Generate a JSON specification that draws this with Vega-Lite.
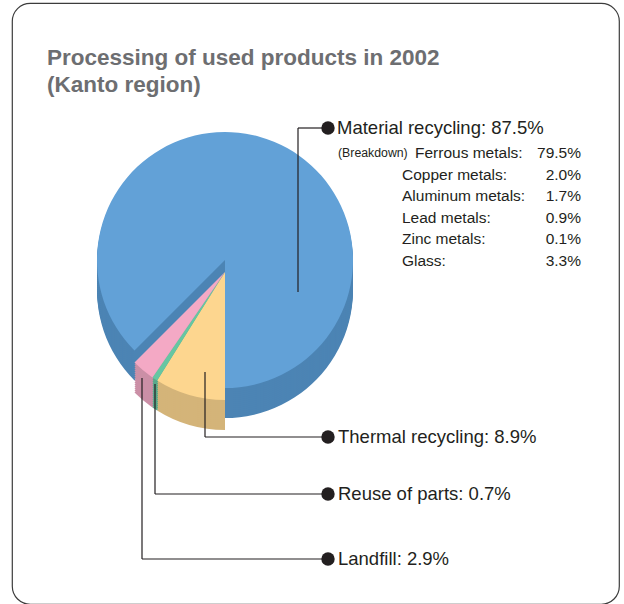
{
  "$schema": "https://vega.github.io/schema/vega-lite/v6.json",
  "autosize": {"type": "fit", "contains": "padding"},
  "width": 624,
  "height": 604,
  "padding": {"left": 12, "top": 3, "right": 5, "bottom": 0},
  "background": "white",
  "config": {
    "view": {"stroke": "#3c3c3c", "strokeWidth": 1.2, "cornerRadius": 18},
    "font": "Liberation Sans",
    "text": {"font": "Liberation Sans", "color": "#231f20"}
  },
  "title": {
    "text": ["Processing of used products in 2002", "(Kanto region)"],
    "anchor": "start",
    "frame": "group",
    "orient": "top",
    "offset": -93,
    "dx": 35,
    "baseline": "top",
    "fontSize": 22.5,
    "fontWeight": "bold",
    "color": "#6d6e71",
    "font": "Liberation Sans",
    "lineHeight": 27
  },
  "datasets": {
    "slices": [
      {"category": "Thermal recycling", "share": 0.089, "rank": 1, "label": "Thermal recycling: 8.9%"},
      {"category": "Reuse of parts", "share": 0.007, "rank": 2, "label": "Reuse of parts: 0.7%"},
      {"category": "Landfill", "share": 0.029, "rank": 3, "label": "Landfill: 2.9%"},
      {"category": "Material recycling", "share": 0.875, "rank": 4, "label": "Material recycling: 87.5%"}
    ],
    "breakdown": [
      {"label": "Ferrous metals:", "share": 0.795, "note": "(Breakdown)"},
      {"label": "Copper metals:", "share": 0.02},
      {"label": "Aluminum metals:", "share": 0.017},
      {"label": "Lead metals:", "share": 0.009},
      {"label": "Zinc metals:", "share": 0.001},
      {"label": "Glass:", "share": 0.033}
    ]
  },
  "resolve": {"scale": {"y": "independent"}},
  "layer": [
    {
      "data": {"name": "slices"},
      "layer": [
        {
          "encoding": {
            "theta": {"field": "share", "type": "quantitative", "stack": true, "scale": {"domain": [0, 1], "range": [3.14159265, 9.42477796]}},
            "order": {"field": "rank", "type": "quantitative"},
            "x": {"datum": 225, "type": "quantitative", "scale": {"domain": [12, 619], "nice": false, "zero": false}, "axis": null},
            "y": {"datum": 260, "type": "quantitative", "scale": {"domain": [3, 604], "nice": false, "zero": false, "reverse": true}, "axis": null},
            "opacity": {"condition": {"test": "datum.category !== 'Material recycling'", "value": 0}, "value": 1}
          },
          "layer": [
            {
              "encoding": {
                "fill": {"field": "category", "type": "nominal", "legend": null,
                  "scale": {"domain": ["Material recycling", "Thermal recycling", "Reuse of parts", "Landfill"], "range": ["#4c84b4", "#d4b479", "#58a98b", "#cb8fa6"]}}
              },
              "layer": [
                {"mark": {"type": "arc", "radius": 128, "yOffset": 30}},
                {"mark": {"type": "arc", "radius": 128, "yOffset": 28}},
                {"mark": {"type": "arc", "radius": 128, "yOffset": 26}},
                {"mark": {"type": "arc", "radius": 128, "yOffset": 24}},
                {"mark": {"type": "arc", "radius": 128, "yOffset": 22}},
                {"mark": {"type": "arc", "radius": 128, "yOffset": 20}},
                {"mark": {"type": "arc", "radius": 128, "yOffset": 18}},
                {"mark": {"type": "arc", "radius": 128, "yOffset": 16}},
                {"mark": {"type": "arc", "radius": 128, "yOffset": 14}},
                {"mark": {"type": "arc", "radius": 128, "yOffset": 12}},
                {"mark": {"type": "arc", "radius": 128, "yOffset": 10}},
                {"mark": {"type": "arc", "radius": 128, "yOffset": 8}},
                {"mark": {"type": "arc", "radius": 128, "yOffset": 6}},
                {"mark": {"type": "arc", "radius": 128, "yOffset": 4}},
                {"mark": {"type": "arc", "radius": 128, "yOffset": 2}}
              ]
            },
            {
              "mark": {"type": "arc", "radius": 128},
              "encoding": {
                "color": {"field": "category", "type": "nominal", "legend": null,
                  "scale": {"domain": ["Material recycling", "Thermal recycling", "Reuse of parts", "Landfill"], "range": ["#62a1d7", "#fdd68f", "#66c6a2", "#f4a9c5"]}}
              }
            }
          ]
        },
        {
          "encoding": {
            "theta": {"field": "share", "type": "quantitative", "stack": true, "scale": {"domain": [0, 1], "range": [3.14159265, 9.42477796]}},
            "order": {"field": "rank", "type": "quantitative"},
            "x": {"datum": 225, "type": "quantitative", "scale": {"domain": [12, 619], "nice": false, "zero": false}, "axis": null},
            "y": {"datum": 272, "type": "quantitative", "scale": {"domain": [3, 604], "nice": false, "zero": false, "reverse": true}, "axis": null},
            "opacity": {"condition": {"test": "datum.category === 'Material recycling'", "value": 0}, "value": 1}
          },
          "layer": [
            {
              "encoding": {
                "fill": {"field": "category", "type": "nominal", "legend": null,
                  "scale": {"domain": ["Material recycling", "Thermal recycling", "Reuse of parts", "Landfill"], "range": ["#4c84b4", "#d4b479", "#58a98b", "#cb8fa6"]}}
              },
              "layer": [
                {"mark": {"type": "arc", "radius": 128, "yOffset": 30}},
                {"mark": {"type": "arc", "radius": 128, "yOffset": 28}},
                {"mark": {"type": "arc", "radius": 128, "yOffset": 26}},
                {"mark": {"type": "arc", "radius": 128, "yOffset": 24}},
                {"mark": {"type": "arc", "radius": 128, "yOffset": 22}},
                {"mark": {"type": "arc", "radius": 128, "yOffset": 20}},
                {"mark": {"type": "arc", "radius": 128, "yOffset": 18}},
                {"mark": {"type": "arc", "radius": 128, "yOffset": 16}},
                {"mark": {"type": "arc", "radius": 128, "yOffset": 14}},
                {"mark": {"type": "arc", "radius": 128, "yOffset": 12}},
                {"mark": {"type": "arc", "radius": 128, "yOffset": 10}},
                {"mark": {"type": "arc", "radius": 128, "yOffset": 8}},
                {"mark": {"type": "arc", "radius": 128, "yOffset": 6}},
                {"mark": {"type": "arc", "radius": 128, "yOffset": 4}},
                {"mark": {"type": "arc", "radius": 128, "yOffset": 2}}
              ]
            },
            {
              "mark": {"type": "arc", "radius": 128},
              "encoding": {
                "color": {"field": "category", "type": "nominal", "legend": null,
                  "scale": {"domain": ["Material recycling", "Thermal recycling", "Reuse of parts", "Landfill"], "range": ["#62a1d7", "#fdd68f", "#66c6a2", "#f4a9c5"]}}
              }
            }
          ]
        },
        {
          "transform": [{"filter": "datum.category === 'Material recycling'"}],
          "layer": [
            {"mark": {"type": "rule", "color": "#231f20", "strokeWidth": 1.2},
             "encoding": {"x": {"datum": 298, "type": "quantitative"}, "y": {"datum": 292, "type": "quantitative"}, "y2": {"datum": 128}}},
            {"mark": {"type": "rule", "color": "#231f20", "strokeWidth": 1.2},
             "encoding": {"x": {"datum": 298, "type": "quantitative"}, "x2": {"datum": 328}, "y": {"datum": 128, "type": "quantitative"}}},
            {"mark": {"type": "circle", "size": 180, "color": "#231f20", "opacity": 1},
             "encoding": {"x": {"datum": 328, "type": "quantitative"}, "y": {"datum": 128, "type": "quantitative"}}},
            {"mark": {"type": "text", "align": "left", "baseline": "middle", "fontSize": 18.5},
             "encoding": {"x": {"datum": 337, "type": "quantitative"}, "y": {"datum": 128, "type": "quantitative"}, "text": {"field": "label"}}}
          ]
        },
        {
          "transform": [{"filter": "datum.category === 'Thermal recycling'"}],
          "layer": [
            {"mark": {"type": "rule", "color": "#231f20", "strokeWidth": 1.2},
             "encoding": {"x": {"datum": 205, "type": "quantitative"}, "y": {"datum": 372, "type": "quantitative"}, "y2": {"datum": 437}}},
            {"mark": {"type": "rule", "color": "#231f20", "strokeWidth": 1.2},
             "encoding": {"x": {"datum": 205, "type": "quantitative"}, "x2": {"datum": 328}, "y": {"datum": 437, "type": "quantitative"}}},
            {"mark": {"type": "circle", "size": 180, "color": "#231f20", "opacity": 1},
             "encoding": {"x": {"datum": 328, "type": "quantitative"}, "y": {"datum": 437, "type": "quantitative"}}},
            {"mark": {"type": "text", "align": "left", "baseline": "middle", "fontSize": 18.5},
             "encoding": {"x": {"datum": 338, "type": "quantitative"}, "y": {"datum": 437, "type": "quantitative"}, "text": {"field": "label"}}}
          ]
        },
        {
          "transform": [{"filter": "datum.category === 'Reuse of parts'"}],
          "layer": [
            {"mark": {"type": "rule", "color": "#231f20", "strokeWidth": 1.2},
             "encoding": {"x": {"datum": 155, "type": "quantitative"}, "y": {"datum": 384, "type": "quantitative"}, "y2": {"datum": 494}}},
            {"mark": {"type": "rule", "color": "#231f20", "strokeWidth": 1.2},
             "encoding": {"x": {"datum": 155, "type": "quantitative"}, "x2": {"datum": 328}, "y": {"datum": 494, "type": "quantitative"}}},
            {"mark": {"type": "circle", "size": 180, "color": "#231f20", "opacity": 1},
             "encoding": {"x": {"datum": 328, "type": "quantitative"}, "y": {"datum": 494, "type": "quantitative"}}},
            {"mark": {"type": "text", "align": "left", "baseline": "middle", "fontSize": 18.5},
             "encoding": {"x": {"datum": 338, "type": "quantitative"}, "y": {"datum": 494, "type": "quantitative"}, "text": {"field": "label"}}}
          ]
        },
        {
          "transform": [{"filter": "datum.category === 'Landfill'"}],
          "layer": [
            {"mark": {"type": "rule", "color": "#231f20", "strokeWidth": 1.2},
             "encoding": {"x": {"datum": 142, "type": "quantitative"}, "y": {"datum": 378, "type": "quantitative"}, "y2": {"datum": 559}}},
            {"mark": {"type": "rule", "color": "#231f20", "strokeWidth": 1.2},
             "encoding": {"x": {"datum": 142, "type": "quantitative"}, "x2": {"datum": 328}, "y": {"datum": 559, "type": "quantitative"}}},
            {"mark": {"type": "circle", "size": 180, "color": "#231f20", "opacity": 1},
             "encoding": {"x": {"datum": 328, "type": "quantitative"}, "y": {"datum": 559, "type": "quantitative"}}},
            {"mark": {"type": "text", "align": "left", "baseline": "middle", "fontSize": 18.5},
             "encoding": {"x": {"datum": 338, "type": "quantitative"}, "y": {"datum": 559, "type": "quantitative"}, "text": {"field": "label"}}}
          ]
        }
      ]
    },
    {
      "data": {"name": "breakdown"},
      "encoding": {
        "y": {"field": "label", "type": "nominal", "sort": null, "axis": null,
          "scale": {"type": "point", "domain": ["Ferrous metals:", "Copper metals:", "Aluminum metals:", "Lead metals:", "Zinc metals:", "Glass:"], "range": [150, 257.5], "padding": 0}}
      },
      "layer": [
        {
          "transform": [{"filter": "datum.note != null"}],
          "mark": {"type": "text", "align": "left", "baseline": "middle", "fontSize": 12.3},
          "encoding": {"x": {"datum": 338, "type": "quantitative", "scale": {"domain": [12, 619], "nice": false, "zero": false}, "axis": null}, "text": {"field": "note"}}
        },
        {
          "transform": [{"filter": "datum.note != null"}],
          "mark": {"type": "text", "align": "left", "baseline": "middle", "fontSize": 15.5},
          "encoding": {"x": {"datum": 415, "type": "quantitative"}, "text": {"field": "label"}}
        },
        {
          "transform": [{"filter": "datum.note == null"}],
          "mark": {"type": "text", "align": "left", "baseline": "middle", "fontSize": 15.5},
          "encoding": {"x": {"datum": 402, "type": "quantitative"}, "text": {"field": "label"}}
        },
        {
          "mark": {"type": "text", "align": "right", "baseline": "middle", "fontSize": 15.5},
          "encoding": {"x": {"datum": 581, "type": "quantitative"}, "text": {"field": "share", "type": "quantitative", "format": ".1%"}}
        }
      ]
    }
  ]
}
